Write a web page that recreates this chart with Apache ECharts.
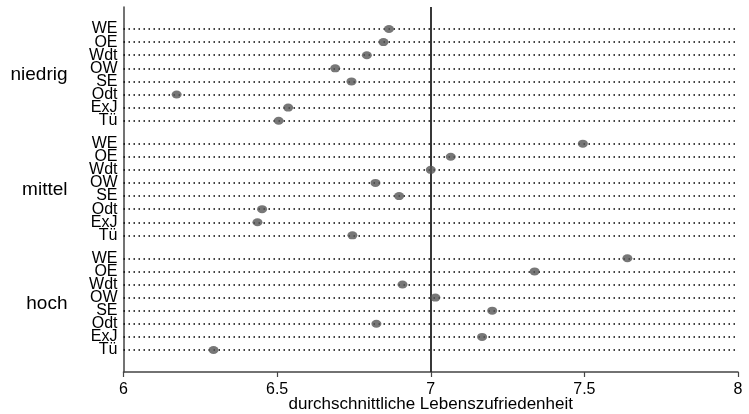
<!DOCTYPE html>
<html>
<head>
<meta charset="utf-8">
<script src="https://cdn.jsdelivr.net/npm/echarts@6/dist/echarts.min.js"></script>
<style>
  html, body { margin: 0; padding: 0; background: #fff; }
  #chart { width: 749px; height: 414px; }
</style>
</head>
<body>
<div id="chart"></div>
<script>
// Gruppen und Zeilen
const groups = ['niedrig', 'mittel', 'hoch']
const rows = ['WE', 'OE', 'Wdt', 'OW', 'SE', 'Odt', 'ExJ', 'Tü']
// durchschnittliche Lebenszufriedenheit je Gruppe
const niedrig = [6.864, 6.846, 6.792, 6.689, 6.742, 6.173, 6.536, 6.505]
const mittel = [7.495, 7.065, 7.0, 6.82, 6.897, 6.451, 6.436, 6.745]
const hoch = [7.64, 7.338, 6.908, 7.015, 7.2, 6.823, 7.167, 6.293]
const xTicks = [6, 6.5, 7, 7.5, 8]
const refLine = 7

const groupValues = [niedrig, mittel, hoch]
const GROUP_STEP = 8.75 // Zeilenabstand zwischen Gruppen
const Y_MIN = -1.68
const Y_MAX = 26.18

const rowPos = []
const rowName = {}
groups.forEach((g, gi) => {
  rows.forEach((r, ri) => {
    const p = gi * GROUP_STEP + ri
    rowPos.push(p)
    rowName[p.toFixed(2)] = r
  })
})
const groupPos = groups.map((g, gi) => gi * GROUP_STEP + (rows.length - 1) / 2)
const groupName = {}
groupPos.forEach((p, i) => { groupName[p.toFixed(2)] = groups[i] })

const points = []
groupValues.forEach((vals, gi) => {
  vals.forEach((v, ri) => points.push([v, gi * GROUP_STEP + ri]))
})

const chart = echarts.init(document.getElementById('chart'))
const option = {
  animation: false,
  textStyle: { fontFamily: 'Liberation Sans, Arial, sans-serif', color: '#000' },
  grid: { left: 123.5, right: 11, top: 7, bottom: 42, containLabel: false, outerBoundsMode: 'none' },
  xAxis: {
    type: 'value',
    min: xTicks[0],
    max: xTicks[xTicks.length - 1],
    interval: 0.5,
    name: 'durchschnittliche Lebenszufriedenheit',
    nameLocation: 'middle',
    nameGap: 24,
    nameMoveOverlap: false,
    nameTextStyle: { fontSize: 17, color: '#000', verticalAlign: 'top' },
    axisLine: { show: true, onZero: false, lineStyle: { color: '#444', width: 1.5 } },
    axisTick: { show: true, length: 5, lineStyle: { color: '#444', width: 1.2 } },
    axisLabel: { fontSize: 16, color: '#000', margin: 10, showMinLabel: true, showMaxLabel: true },
    splitLine: { show: false }
  },
  yAxis: [
    {
      type: 'value',
      inverse: true,
      min: Y_MIN,
      max: Y_MAX,
      axisLine: { show: true, onZero: false, lineStyle: { color: '#444', width: 1.5 } },
      axisTick: { show: false },
      splitLine: { show: false },
      axisLabel: {
        // leere Randwerte, damit keine Beschriftung versteckt wird
        customValues: [Y_MIN].concat(rowPos, [Y_MAX]),
        showMinLabel: true,
        showMaxLabel: true,
        hideOverlap: false,
        fontSize: 16,
        color: '#000',
        margin: 6,
        padding: [3, 0, 0, 0],
        formatter: v => rowName[Number(v).toFixed(2)] || ''
      }
    },
    {
      type: 'value',
      position: 'left',
      inverse: true,
      min: Y_MIN,
      max: Y_MAX,
      axisLine: { show: false },
      axisTick: { show: false },
      splitLine: { show: false },
      axisLabel: {
        customValues: [Y_MIN].concat(groupPos, [Y_MAX]),
        showMinLabel: true,
        showMaxLabel: true,
        hideOverlap: false,
        fontSize: 19,
        color: '#000',
        margin: 56,
        padding: [4, 0, 0, 0],
        formatter: v => groupName[Number(v).toFixed(2)] || ''
      }
    }
  ],
  series: [
    {
      type: 'scatter',
      data: points,
      symbol: 'circle',
      symbolSize: [10, 8],
      itemStyle: { color: '#555' },
      z: 5,
      markLine: {
        silent: true,
        symbol: ['none', 'none'],
        label: { show: false },
        lineStyle: { color: '#000', width: 1.5, type: [1.5, 3.5] },
        data: rowPos.map(p => ({ yAxis: p }))
      }
    },
    {
      type: 'scatter',
      data: [],
      markLine: {
        silent: true,
        symbol: ['none', 'none'],
        label: { show: false },
        lineStyle: { color: '#222', width: 1.8, type: 'solid' },
        data: [{ xAxis: refLine }]
      }
    }
  ]
}
chart.setOption(option)
</script>
</body>
</html>
